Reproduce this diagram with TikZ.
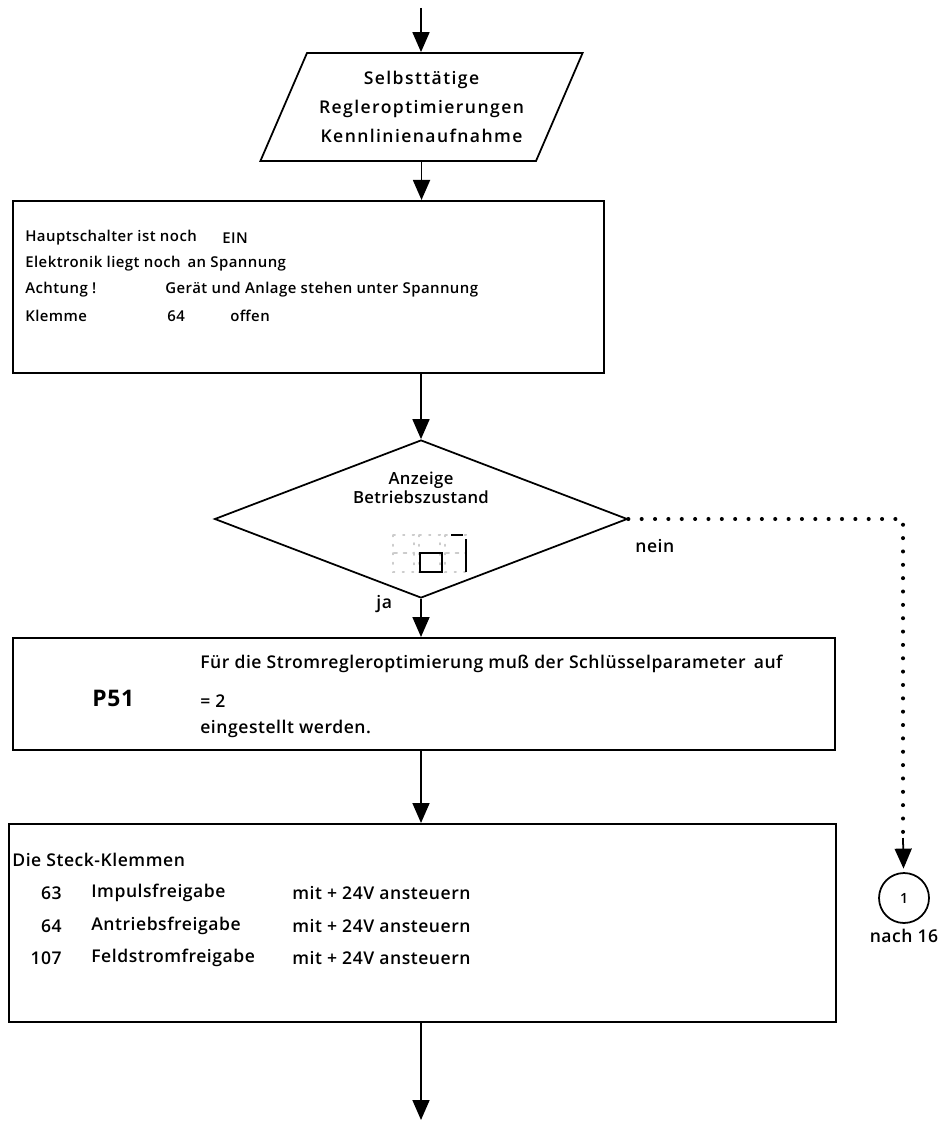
\documentclass[tikz,border=0pt]{standalone}
\usepackage{fontspec}
\setmainfont{Open Sans}[UprightFont={* Semibold},BoldFont={* Bold}]
\usetikzlibrary{arrows.meta,positioning,shapes.geometric}

\newcommand{\fliess}[2]{\fontsize{#1}{#1}\selectfont\addfontfeature{LetterSpace=#2}}

\begin{document}
\begin{tikzpicture}[x=0.02cm,y=-0.02cm,
  font=\fliess{10}{3},
  box/.style={draw,line width=1pt,inner sep=0pt,anchor=north west},
  txt/.style={anchor=west,inner sep=0pt},
  small/.style={font=\fliess{8.5}{3}},
  arrow/.style={-{Triangle[length=4mm,width=3.4mm]},line width=1pt},
  dots/.style={line width=2.3pt,dash pattern=on 0pt off 7.6pt,line cap=round},
  seglight/.style={gray!40,line width=0.9pt,dash pattern=on 0.9pt off 4.5pt,line cap=round},
  seglit/.style={line width=1.6pt}
]
\useasboundingbox (0,0) rectangle (942,1124);

% Eingabe / Start
\coordinate (entry) at (421,8);
\node[trapezium,trapezium left angle=62,trapezium right angle=118,
  trapezium stretches=true,draw,line width=1pt,minimum width=6.46cm,
  minimum height=2.16cm,align=center,
  font={\fontsize{10}{16.4}\selectfont\addfontfeature{LetterSpace=8}}] (start)
  at (421.5,107) {Selbsttätige\\Regleroptimierungen\\Kennlinienaufnahme};
\draw[arrow] (entry) -- (entry |- start.north);

% Hinweise
\node[box,minimum width=11.82cm,minimum height=3.44cm] (hinweis) at (12,200) {};
\draw[arrow] (start.south) -- (hinweis.north -| start.south);
\node[txt,small] (h1) at (25,238) {Hauptschalter ist noch};
\node[txt,small] (h1b) at (222,238) {EIN};
\node[txt,small] (h2) at (25,264) {Elektronik liegt noch\, an Spannung};
\node[txt,small] (h3) at (25,290) {Achtung !};
\node[txt,small] (h3b) at (165,290) {Gerät und Anlage stehen unter Spannung};
\node[txt,small] (h4) at (25,316) {Klemme};
\node[txt,small] (h4b) at (167,316) {64};
\node[txt,small] (h4c) at (230,316) {offen};

% Abfrage Betriebszustand
\node[diamond,draw,line width=1pt,minimum width=8.26cm,minimum height=3.16cm,
  inner sep=0pt] (anzeige) at (421,519) {};
\draw[arrow] (hinweis.south -| anzeige.north) -- (anzeige.north);
\node[align=center,inner sep=0pt,font={\fliess{9.5}{2}\baselineskip=11pt}] (frage)
  at (421,488) {Anzeige\\Betriebszustand};
\foreach \x in {393,419,445}{
  \draw[seglight] (\x,535) rectangle ++(21,18) (\x,553) rectangle ++(21,19);
}
\draw[seglit] (420,553) rectangle (442,572);
\draw[seglit] (451,535) -- (463,535) (466,539) -- (466,572);
\node[txt] (nein) at (635,546) {nein};
\node[txt] (ja) at (376,604) {ja};

% Schluesselparameter
\node[box,minimum width=16.44cm,minimum height=2.24cm] (p51box) at (12,637) {};
\draw[arrow] (anzeige.south) -- (p51box.north -| anzeige.south);
\node[txt,font={\fontsize{13}{15}\bfseries\addfontfeature{LetterSpace=3}}]
  (p51) at (92,698) {P51};
\node[txt] (p1) at (200,664) {Für die Stromregleroptimierung muß der Schlüsselparameter\, auf};
\node[txt] (p2) at (200,701) {= 2};
\node[txt] (p3) at (200,729) {eingestellt werden.};

% Steck-Klemmen
\node[box,minimum width=16.54cm,minimum height=3.96cm] (klemmen) at (8,823) {};
\draw[arrow] (p51box.south -| anzeige.south) -- (klemmen.north -| anzeige.south);
\node[txt] (k0) at (12,860) {Die Steck-Klemmen};
\foreach \y/\nr/\name in {893/63/Impulsfreigabe,926/64/Antriebsfreigabe,958/107/Feldstromfreigabe}{
  \node[anchor=east,inner sep=0pt] (nr\nr) at (62,\y) {\nr};
  \node[txt] (name\nr) at (91,\y) {\name};
  \node[txt] (mit\nr) at (292,\y) {mit + 24V ansteuern};
}
\coordinate (ende) at (421,1120);
\draw[arrow] (klemmen.south -| ende) -- (ende);

% Konnektor "nein"
\node[circle,draw,line width=1pt,minimum size=1cm,inner sep=0pt,
  font=\fliess{8}{0}] (conn) at (904,898) {1};
\node[below=0.1cm of conn,inner sep=0pt] (nach) {nach 16};
\coordinate (knick) at (903,838);
\draw[dots] (anzeige.east) -| (knick);
\draw[arrow,shorten >=2pt] (knick) -- (conn);
\end{tikzpicture}
\end{document}
